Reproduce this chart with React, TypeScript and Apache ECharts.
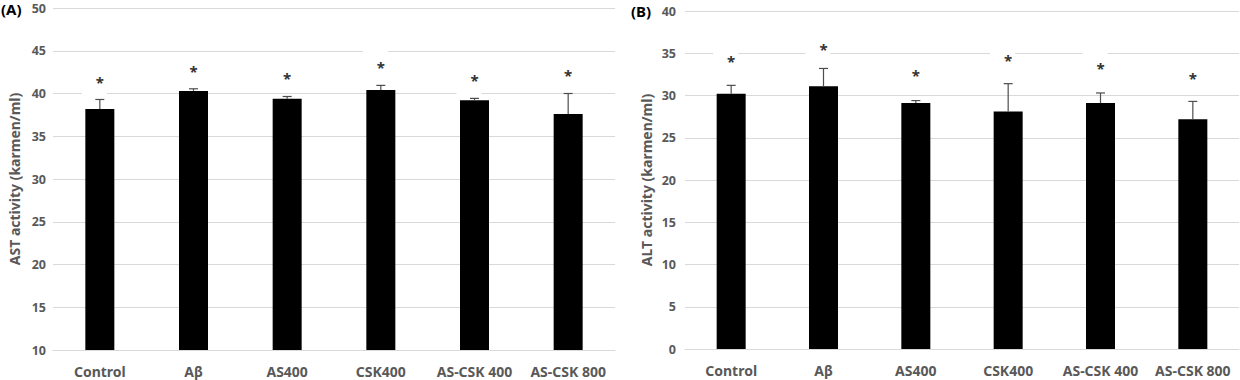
import React, { useEffect, useRef } from "react";
import * as echarts from "echarts";

const categories = ["Control", "Aβ", "AS400", "CSK400", "AS-CSK 400", "AS-CSK 800"];

const astMeans = [38.2, 40.3, 39.4, 40.4, 39.2, 37.6];
const astErrors = [1.1, 0.25, 0.25, 0.55, 0.23, 2.4];
const astStars = [41.7, 43.0, 42.2, 43.4, 41.9, 42.5];

const altMeans = [30.2, 31.1, 29.1, 28.1, 29.1, 27.2];
const altErrors = [1.0, 2.1, 0.3, 3.3, 1.2, 2.1];
const altStars = [34.4, 35.8, 32.8, 34.5, 33.6, 32.4];

const FONT = "'Noto Sans', 'DejaVu Sans', sans-serif";
const GRAY = "#595959";

function errItems(means: number[], errs: number[], stars: number[]) {
  return means.map((m, i) => [i, m, errs[i], stars[i]]);
}

function renderErr(params: any, api: any) {
  const idx = api.value(0);
  const mean = api.value(1);
  const err = api.value(2);
  const star = api.value(3);
  const base = api.coord([idx, mean]);
  const top = api.coord([idx, mean + err]);
  const s = api.coord([idx, star]);
  const lineStyle = { stroke: "#4d4d4d", lineWidth: 1.2 };
  return {
    type: "group",
    children: [
      {
        type: "rect",
        shape: { x: s[0] - 18, y: s[1] - 15, width: 25, height: 33 },
        style: { fill: "#ffffff" },
      },
      {
        type: "line",
        shape: { x1: top[0], y1: base[1], x2: top[0], y2: top[1] },
        style: lineStyle,
      },
      {
        type: "line",
        shape: { x1: top[0] - 4.5, y1: top[1], x2: top[0] + 4.5, y2: top[1] },
        style: lineStyle,
      },
      {
        type: "text",
        x: s[0],
        y: s[1] + 3,
        style: {
          text: "*",
          fill: "#333333",
          font: "bold 15px " + FONT,
          align: "center",
          verticalAlign: "middle",
        },
      },
    ],
  };
}

function yAxisCfg(gridIndex: number, min: number, max: number, name: string, margin: number) {
  return {
    type: "value",
    gridIndex,
    min,
    max,
    interval: 5,
    name,
    nameLocation: "middle",
    nameGap: 32,
    nameRotate: 90,
    nameTextStyle: { color: GRAY, fontFamily: FONT, fontWeight: "bold", fontSize: 14 },
    axisLine: { show: false },
    axisTick: { show: false },
    axisLabel: { color: GRAY, fontFamily: FONT, fontWeight: "bold", fontSize: 12.5, margin },
    splitLine: { lineStyle: { color: "#d9d9d9", width: 1 } },
  };
}

function xAxisCfg(gridIndex: number) {
  return {
    type: "category",
    gridIndex,
    data: categories,
    axisLine: { show: true, lineStyle: { color: "#d9d9d9", width: 1 } },
    axisTick: { show: false },
    axisLabel: { color: GRAY, fontFamily: FONT, fontWeight: "bold", fontSize: 14, margin: 14, interval: 0 },
  };
}

export default function App() {
  const ref = useRef<HTMLDivElement>(null);
  useEffect(() => {
    if (!ref.current) return;
    const chart = echarts.init(ref.current, null, { renderer: "svg" });
    chart.setOption({
      animation: false,
      backgroundColor: "#ffffff",
      grid: [
        { left: 53, right: 625, top: 8, bottom: 30 },
        { left: 685, right: 1, top: 11, bottom: 31 },
      ],
      xAxis: [xAxisCfg(0), xAxisCfg(1)],
      yAxis: [
        yAxisCfg(0, 10, 50, "AST activity (karmen/ml)", 7),
        yAxisCfg(1, 0, 40, "ALT activity (karmen/ml)", 9),
      ],
      graphic: [
        {
          type: "text",
          left: 1,
          top: 1,
          style: { text: "(A)", fill: "#000000", font: "bold 15px " + FONT },
        },
        {
          type: "text",
          left: 631,
          top: 3,
          style: { text: "(B)", fill: "#000000", font: "bold 15px " + FONT },
        },
      ],
      series: [
        {
          type: "bar",
          xAxisIndex: 0,
          yAxisIndex: 0,
          data: astMeans,
          barWidth: 29,
          itemStyle: { color: "#000000" },
          z: 2,
        },
        {
          type: "custom",
          xAxisIndex: 0,
          yAxisIndex: 0,
          data: errItems(astMeans, astErrors, astStars),
          renderItem: renderErr,
          encode: { x: 0, y: 1 },
          z: 3,
        },
        {
          type: "bar",
          xAxisIndex: 1,
          yAxisIndex: 1,
          data: altMeans,
          barWidth: 29,
          itemStyle: { color: "#000000" },
          z: 2,
        },
        {
          type: "custom",
          xAxisIndex: 1,
          yAxisIndex: 1,
          data: errItems(altMeans, altErrors, altStars),
          renderItem: renderErr,
          encode: { x: 0, y: 1 },
          z: 3,
        },
      ],
    });
    return () => chart.dispose();
  }, []);
  return (
    <div
      ref={ref}
      style={{ position: "fixed", left: 0, top: 0, width: 1240, height: 380, background: "#fff" }}
    />
  );
}
